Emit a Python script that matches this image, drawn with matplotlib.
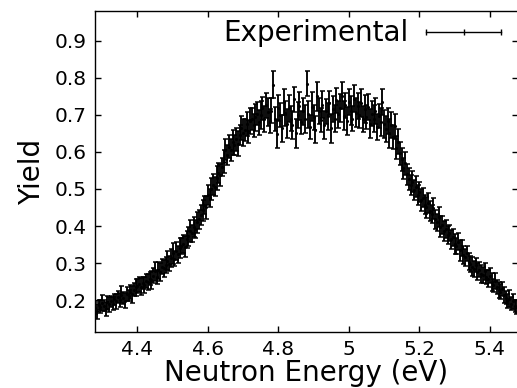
import numpy as np
import matplotlib
matplotlib.use("Agg")
import matplotlib.pyplot as plt
from matplotlib.lines import Line2D

# energy bins (eV), 0.005 eV wide, 4.280 ... 5.475
energy = np.round(np.arange(240) * 0.005 + 4.28, 3)

yield_vals = [
    0.178, 0.170, 0.186, 0.182, 0.192, 0.184, 0.176, 0.194, 0.188, 0.196,
    0.190, 0.202, 0.196, 0.208, 0.200, 0.214, 0.206, 0.198, 0.216, 0.212,
    0.222, 0.215, 0.228, 0.234, 0.238, 0.242, 0.236, 0.246, 0.240, 0.252,
    0.248, 0.258, 0.254, 0.266, 0.278, 0.262, 0.280, 0.276, 0.290, 0.286,
    0.294, 0.306, 0.298, 0.314, 0.326, 0.312, 0.332, 0.324, 0.340, 0.346,
    0.352, 0.344, 0.364, 0.372, 0.386, 0.380, 0.398, 0.392, 0.410, 0.418,
    0.430, 0.442, 0.456, 0.450, 0.484, 0.476, 0.500, 0.512, 0.506, 0.530,
    0.544, 0.538, 0.560, 0.574, 0.606, 0.592, 0.614, 0.606, 0.626, 0.620,
    0.634, 0.622, 0.646, 0.664, 0.652, 0.660, 0.676, 0.656, 0.684, 0.690,
    0.672, 0.694, 0.704, 0.680, 0.700, 0.718, 0.688, 0.726, 0.708, 0.684,
    0.712, 0.782, 0.690, 0.648, 0.720, 0.700, 0.664, 0.735, 0.705, 0.676,
    0.718, 0.690, 0.672, 0.742, 0.650, 0.700, 0.724, 0.680, 0.710, 0.688,
    0.785, 0.702, 0.668, 0.722, 0.694, 0.660, 0.750, 0.712, 0.686, 0.728,
    0.674, 0.710, 0.696, 0.732, 0.664, 0.716, 0.690, 0.740, 0.702, 0.720,
    0.752, 0.698, 0.726, 0.684, 0.736, 0.712, 0.690, 0.744, 0.706, 0.724,
    0.700, 0.732, 0.688, 0.716, 0.694, 0.722, 0.676, 0.704, 0.690, 0.712,
    0.668, 0.698, 0.680, 0.735, 0.676, 0.662, 0.684, 0.650, 0.672, 0.640,
    0.670, 0.612, 0.628, 0.596, 0.580, 0.556, 0.570, 0.540, 0.528, 0.512,
    0.520, 0.498, 0.506, 0.484, 0.492, 0.470, 0.476, 0.458, 0.450, 0.462,
    0.440, 0.432, 0.448, 0.418, 0.410, 0.424, 0.398, 0.402, 0.386, 0.392,
    0.376, 0.382, 0.364, 0.370, 0.352, 0.346, 0.358, 0.334, 0.340, 0.322,
    0.316, 0.326, 0.304, 0.298, 0.290, 0.284, 0.294, 0.276, 0.282, 0.270,
    0.268, 0.278, 0.262, 0.258, 0.266, 0.248, 0.240, 0.252, 0.236, 0.228,
    0.222, 0.230, 0.214, 0.206, 0.198, 0.204, 0.190, 0.196, 0.184, 0.180,
]

yield_err = [
    0.016, 0.020, 0.014, 0.018, 0.022, 0.015, 0.019, 0.017, 0.021, 0.016,
    0.018, 0.015, 0.021, 0.017, 0.019, 0.023, 0.016, 0.020, 0.018, 0.015,
    0.019, 0.022, 0.017, 0.024, 0.018, 0.020, 0.023, 0.017, 0.021, 0.019,
    0.021, 0.018, 0.024, 0.020, 0.026, 0.019, 0.022, 0.025, 0.020, 0.023,
    0.022, 0.026, 0.020, 0.024, 0.028, 0.021, 0.025, 0.023, 0.027, 0.022,
    0.024, 0.028, 0.023, 0.026, 0.030, 0.024, 0.027, 0.025, 0.029, 0.026,
    0.026, 0.029, 0.024, 0.031, 0.027, 0.025, 0.030, 0.028, 0.026, 0.032,
    0.027, 0.030, 0.025, 0.032, 0.028, 0.026, 0.031, 0.029, 0.033, 0.027,
    0.030, 0.034, 0.028, 0.032, 0.036, 0.029, 0.033, 0.031, 0.035, 0.030,
    0.032, 0.036, 0.030, 0.034, 0.038, 0.031, 0.035, 0.033, 0.037, 0.032,
    0.034, 0.036, 0.032, 0.038, 0.035, 0.033, 0.037, 0.036, 0.034, 0.039,
    0.036, 0.033, 0.038, 0.035, 0.040, 0.034, 0.037, 0.032, 0.036, 0.038,
    0.035, 0.037, 0.033, 0.039, 0.034, 0.036, 0.038, 0.035, 0.033, 0.037,
    0.038, 0.034, 0.036, 0.033, 0.039, 0.035, 0.037, 0.034, 0.036, 0.038,
    0.036, 0.039, 0.034, 0.037, 0.035, 0.038, 0.033, 0.036, 0.039, 0.035,
    0.034, 0.037, 0.035, 0.038, 0.033, 0.036, 0.039, 0.034, 0.037, 0.035,
    0.036, 0.033, 0.038, 0.035, 0.037, 0.034, 0.036, 0.039, 0.035, 0.033,
    0.034, 0.031, 0.033, 0.030, 0.032, 0.029, 0.031, 0.028, 0.030, 0.027,
    0.029, 0.027, 0.028, 0.026, 0.027, 0.030, 0.026, 0.025, 0.028, 0.026,
    0.027, 0.024, 0.028, 0.025, 0.023, 0.026, 0.029, 0.024, 0.027, 0.025,
    0.025, 0.022, 0.026, 0.023, 0.027, 0.021, 0.024, 0.028, 0.022, 0.025,
    0.023, 0.020, 0.024, 0.021, 0.025, 0.022, 0.019, 0.023, 0.021, 0.024,
    0.021, 0.023, 0.019, 0.022, 0.020, 0.024, 0.018, 0.021, 0.019, 0.022,
    0.020, 0.018, 0.021, 0.017, 0.019, 0.022, 0.018, 0.020, 0.017, 0.019,
]

xticks = [4.4, 4.6, 4.8, 5.0, 5.2, 5.4]
xtick_labels = ["4.4", "4.6", "4.8", "5", "5.2", "5.4"]
yticks = [0.2, 0.3, 0.4, 0.5, 0.6, 0.7, 0.8, 0.9]
ytick_labels = ["0.2", "0.3", "0.4", "0.5", "0.6", "0.7", "0.8", "0.9"]

fig = plt.figure(figsize=(5.17, 3.88), dpi=100)
ax = fig.add_axes([0.1838, 0.1443, 0.8182, 0.8273])

ax.errorbar(energy, yield_vals, yerr=yield_err, fmt=".", color="black",
            markersize=2.5, ecolor="black", elinewidth=1.35, capsize=1.8,
            capthick=1.1)

ax.set_xlim(4.28, 5.48)
ax.set_ylim(0.1135, 0.981)
ax.set_xticks(xticks)
ax.set_xticklabels(xtick_labels)
ax.set_yticks(yticks)
ax.set_yticklabels(ytick_labels)
ax.tick_params(direction="in", length=4, width=1, labelsize=14.5, pad=6,
               top=True, right=True)
ax.spines["right"].set_visible(False)
for s in ["left", "top", "bottom"]:
    ax.spines[s].set_linewidth(1.0)

ax.set_xlabel("Neutron Energy (eV)", fontsize=20, labelpad=0)
ax.set_ylabel("Yield", fontsize=20, labelpad=6)

handle = Line2D([], [], color="black", lw=1.0, marker="|", markersize=4,
                markeredgewidth=1.0)
ax.legend([handle], ["Experimental"], loc="upper right", frameon=False,
          fontsize=20, markerfirst=False, numpoints=3, handlelength=3.3,
          handletextpad=0.35, borderaxespad=0.25, borderpad=0.05)

fig.savefig("out.png", dpi=100)
